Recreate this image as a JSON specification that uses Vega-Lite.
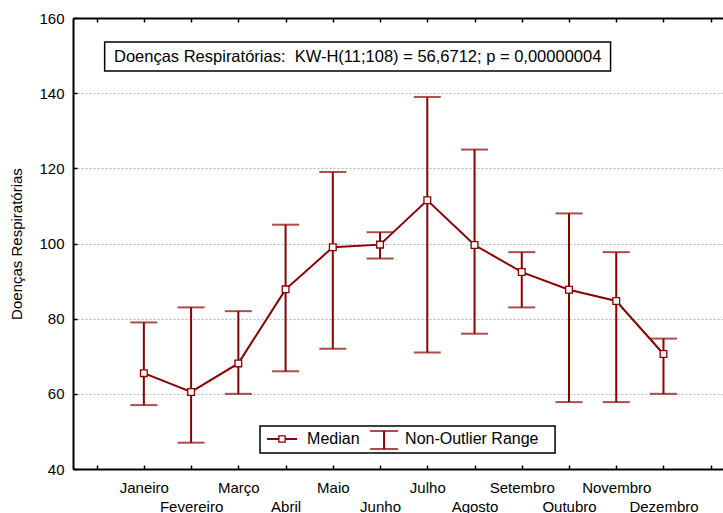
{
  "$schema": "https://vega.github.io/schema/vega-lite/v6.json",
  "width": 650,
  "height": 451,
  "autosize": {"type": "none"},
  "padding": {"left": 73, "top": 18, "right": 0, "bottom": 44},
  "background": "white",
  "config": {
    "view": {"stroke": null},
    "font": "Liberation Sans",
    "axis": {
      "labelFont": "Liberation Sans", "labelFontSize": 15, "labelColor": "black",
      "titleFont": "Liberation Sans", "titleFontSize": 15, "titleFontWeight": "normal", "titleColor": "black",
      "domainColor": "black", "domainWidth": 2, "tickColor": "black", "tickWidth": 1.5, "tickSize": -4
    },
    "axisY": {"grid": true, "gridColor": "#b4b4b4", "gridDash": [2, 2], "gridWidth": 1, "labelPadding": 13, "titlePadding": 14},
    "axisX": {"grid": false}
  },
  "datasets": {
    "months": [
      {"mes": "Janeiro", "m": 1, "med": 65.5, "lo": 57, "hi": 79},
      {"mes": "Fevereiro", "m": 2, "med": 60.5, "lo": 47, "hi": 83},
      {"mes": "Março", "m": 3, "med": 68.1, "lo": 60, "hi": 82},
      {"mes": "Abril", "m": 4, "med": 87.8, "lo": 66, "hi": 105},
      {"mes": "Maio", "m": 5, "med": 99, "lo": 72, "hi": 119},
      {"mes": "Junho", "m": 6, "med": 99.7, "lo": 96, "hi": 103},
      {"mes": "Julho", "m": 7, "med": 111.5, "lo": 71, "hi": 139},
      {"mes": "Agosto", "m": 8, "med": 99.6, "lo": 76, "hi": 125},
      {"mes": "Setembro", "m": 9, "med": 92.4, "lo": 83, "hi": 97.7},
      {"mes": "Outubro", "m": 10, "med": 87.7, "lo": 57.8, "hi": 108},
      {"mes": "Novembro", "m": 11, "med": 84.7, "lo": 57.8, "hi": 97.7},
      {"mes": "Dezembro", "m": 12, "med": 70.6, "lo": 60, "hi": 74.7}
    ],
    "one": [{}]
  },
  "data": {"name": "months"},
  "layer": [
    {
      "data": {"name": "one"},
      "mark": {"type": "rect", "fill": "white", "stroke": "black", "strokeWidth": 1.5},
      "encoding": {
        "x": {"datum": 0.17, "type": "quantitative", "scale": {"domain": [-0.5, 13.26], "nice": false, "zero": false}, "axis": null},
        "x2": {"datum": 10.88},
        "y": {"datum": 153.6, "type": "quantitative", "scale": {"domain": [40, 160], "nice": false, "zero": false}, "title": "Doenças Respiratórias"},
        "y2": {"datum": 145.9}
      }
    },
    {
      "data": {"name": "one"},
      "mark": {"type": "text", "font": "Liberation Sans", "fontSize": 16.5, "color": "black", "align": "center", "baseline": "middle"},
      "encoding": {
        "x": {"datum": 5.526, "type": "quantitative", "scale": {"domain": [-0.5, 13.26], "nice": false, "zero": false}, "axis": null},
        "y": {"datum": 149.75, "type": "quantitative", "scale": {"domain": [40, 160], "nice": false, "zero": false}, "title": "Doenças Respiratórias"},
        "text": {"value": "Doenças Respiratórias:\u00a0 KW-H(11;108) = 56,6712; p = 0,00000004"}
      }
    },
    {
      "mark": {"type": "rule", "color": "#8C0000", "strokeWidth": 2},
      "encoding": {
        "x": {
          "field": "m", "type": "quantitative",
          "scale": {"domain": [-0.5, 13.26], "nice": false, "zero": false},
          "axis": {
            "orient": "bottom", "title": null, "grid": false,
            "values": [0, 1, 2, 3, 4, 5, 6, 7, 8, 9, 10, 11, 12, 13],
            "labelExpr": "['','Janeiro','Fevereiro','Março','Abril','Maio','Junho','Julho','Agosto','Setembro','Outubro','Novembro','Dezembro',''][datum.value]",
            "labelPadding": {"condition": {"test": "datum.value % 2 == 0", "value": 34}, "value": 15},
            "labelBaseline": "top",
            "labelOverlap": false, "labelFlush": false, "labelBound": false
          }
        },
        "y": {
          "field": "lo", "type": "quantitative", "scale": {"domain": [40, 160], "nice": false, "zero": false}, "title": "Doenças Respiratórias",
          "axis": {"values": [40, 60, 80, 100, 120, 140, 160], "grid": true}
        },
        "y2": {"field": "hi"}
      }
    },
    {
      "mark": {"type": "tick", "orient": "horizontal", "color": "#8C0000", "size": 27, "thickness": 2},
      "encoding": {
        "x": {"field": "m", "type": "quantitative", "scale": {"domain": [-0.5, 13.26], "nice": false, "zero": false}, "axis": null},
        "y": {"field": "lo", "type": "quantitative", "scale": {"domain": [40, 160], "nice": false, "zero": false}, "title": "Doenças Respiratórias"}
      }
    },
    {
      "mark": {"type": "tick", "orient": "horizontal", "color": "#8C0000", "size": 27, "thickness": 2},
      "encoding": {
        "x": {
          "field": "m", "type": "quantitative",
          "scale": {"domain": [-0.5, 13.26], "nice": false, "zero": false},
          "axis": {"orient": "top", "title": null, "grid": false, "labels": false, "values": [0, 1, 2, 3, 4, 5, 6, 7, 8, 9, 10, 11, 12, 13]}
        },
        "y": {"field": "hi", "type": "quantitative", "scale": {"domain": [40, 160], "nice": false, "zero": false}, "title": "Doenças Respiratórias"}
      }
    },
    {
      "mark": {"type": "line", "color": "#8C0000", "strokeWidth": 2},
      "encoding": {
        "x": {"field": "m", "type": "quantitative", "scale": {"domain": [-0.5, 13.26], "nice": false, "zero": false}, "axis": null},
        "y": {"field": "med", "type": "quantitative", "scale": {"domain": [40, 160], "nice": false, "zero": false}, "title": "Doenças Respiratórias"}
      }
    },
    {
      "mark": {"type": "point", "shape": "square", "size": 45, "filled": true, "fill": "white", "stroke": "#8C0000", "strokeWidth": 1.3, "opacity": 1},
      "encoding": {
        "x": {"field": "m", "type": "quantitative", "scale": {"domain": [-0.5, 13.26], "nice": false, "zero": false}, "axis": null},
        "y": {"field": "med", "type": "quantitative", "scale": {"domain": [40, 160], "nice": false, "zero": false}, "title": "Doenças Respiratórias"}
      }
    },
    {
      "data": {"name": "one"},
      "mark": {"type": "rect", "fill": "white", "stroke": "black", "strokeWidth": 1.5},
      "encoding": {
        "x": {"datum": 3.459, "type": "quantitative", "scale": {"domain": [-0.5, 13.26], "nice": false, "zero": false}, "axis": null},
        "x2": {"datum": 9.705},
        "y": {"datum": 51.44, "type": "quantitative", "scale": {"domain": [40, 160], "nice": false, "zero": false}, "title": "Doenças Respiratórias"},
        "y2": {"datum": 44.26}
      }
    },
    {
      "data": {"name": "one"},
      "mark": {"type": "rule", "color": "#8C0000", "strokeWidth": 2},
      "encoding": {
        "x": {"datum": 3.608, "type": "quantitative", "scale": {"domain": [-0.5, 13.26], "nice": false, "zero": false}, "axis": null},
        "x2": {"datum": 4.243},
        "y": {"datum": 47.98, "type": "quantitative", "scale": {"domain": [40, 160], "nice": false, "zero": false}, "title": "Doenças Respiratórias"}
      }
    },
    {
      "data": {"name": "one"},
      "mark": {"type": "point", "shape": "square", "size": 40, "filled": true, "fill": "white", "stroke": "#8C0000", "strokeWidth": 1.3, "opacity": 1},
      "encoding": {
        "x": {"datum": 3.925, "type": "quantitative", "scale": {"domain": [-0.5, 13.26], "nice": false, "zero": false}, "axis": null},
        "y": {"datum": 47.98, "type": "quantitative", "scale": {"domain": [40, 160], "nice": false, "zero": false}, "title": "Doenças Respiratórias"}
      }
    },
    {
      "data": {"name": "one"},
      "mark": {"type": "rule", "color": "#8C0000", "strokeWidth": 2},
      "encoding": {
        "x": {"datum": 6.085, "type": "quantitative", "scale": {"domain": [-0.5, 13.26], "nice": false, "zero": false}, "axis": null},
        "y": {"datum": 50.11, "type": "quantitative", "scale": {"domain": [40, 160], "nice": false, "zero": false}, "title": "Doenças Respiratórias"},
        "y2": {"datum": 45.32}
      }
    },
    {
      "data": {"name": "one"},
      "mark": {"type": "tick", "orient": "horizontal", "color": "#8C0000", "size": 28, "thickness": 2},
      "encoding": {
        "x": {"datum": 6.085, "type": "quantitative", "scale": {"domain": [-0.5, 13.26], "nice": false, "zero": false}, "axis": null},
        "y": {"datum": 50.11, "type": "quantitative", "scale": {"domain": [40, 160], "nice": false, "zero": false}, "title": "Doenças Respiratórias"}
      }
    },
    {
      "data": {"name": "one"},
      "mark": {"type": "tick", "orient": "horizontal", "color": "#8C0000", "size": 28, "thickness": 2},
      "encoding": {
        "x": {"datum": 6.085, "type": "quantitative", "scale": {"domain": [-0.5, 13.26], "nice": false, "zero": false}, "axis": null},
        "y": {"datum": 45.32, "type": "quantitative", "scale": {"domain": [40, 160], "nice": false, "zero": false}, "title": "Doenças Respiratórias"}
      }
    },
    {
      "data": {"name": "one"},
      "mark": {"type": "text", "font": "Liberation Sans", "fontSize": 16, "color": "black", "align": "left", "baseline": "middle"},
      "encoding": {
        "x": {"datum": 4.455, "type": "quantitative", "scale": {"domain": [-0.5, 13.26], "nice": false, "zero": false}, "axis": null},
        "y": {"datum": 47.98, "type": "quantitative", "scale": {"domain": [40, 160], "nice": false, "zero": false}, "title": "Doenças Respiratórias"},
        "text": {"value": "Median"}
      }
    },
    {
      "data": {"name": "one"},
      "mark": {"type": "text", "font": "Liberation Sans", "fontSize": 16, "color": "black", "align": "left", "baseline": "middle"},
      "encoding": {
        "x": {"datum": 6.53, "type": "quantitative", "scale": {"domain": [-0.5, 13.26], "nice": false, "zero": false}, "axis": null},
        "y": {"datum": 47.98, "type": "quantitative", "scale": {"domain": [40, 160], "nice": false, "zero": false}, "title": "Doenças Respiratórias"},
        "text": {"value": "Non-Outlier Range"}
      }
    }
  ],
  "resolve": {"axis": {"x": "independent"}}
}
